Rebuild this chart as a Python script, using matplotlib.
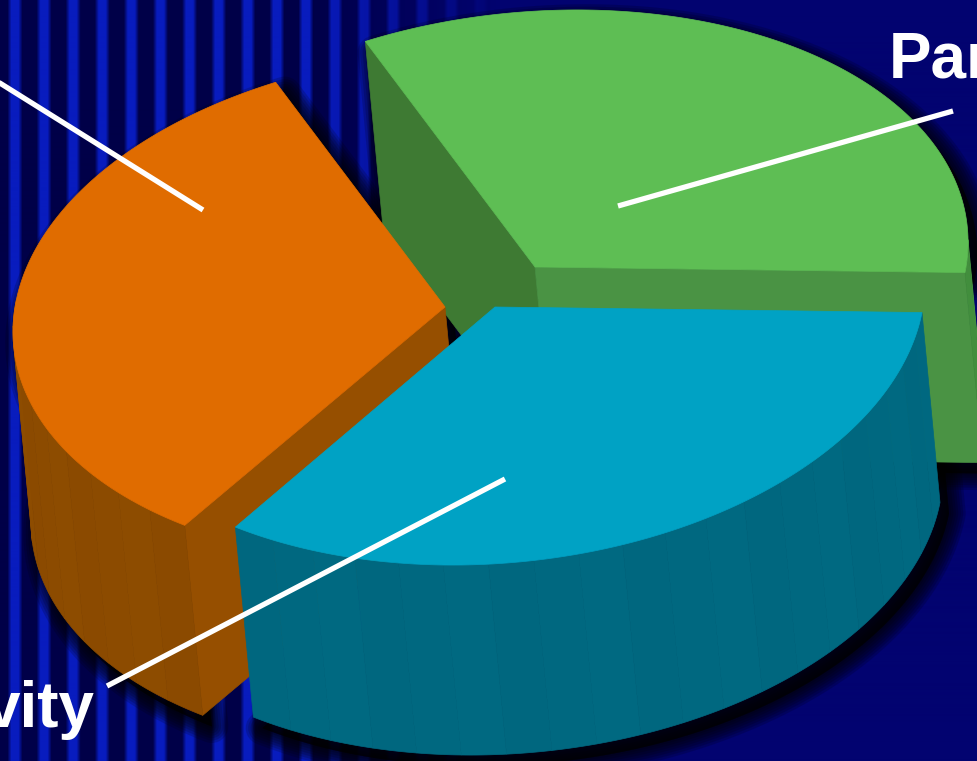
import numpy as np
import matplotlib
matplotlib.use('Agg')
import matplotlib.pyplot as plt
from matplotlib.patches import Polygon

# shares of the three slices, anticlockwise from the right hand side
slice_labels = ['Par', '', 'vity']
slice_shares = [33.3, 33.3, 33.4]
top_colors = ['#5EBE54', '#E06C00', '#00A2C4']
wall_colors = ['#438F3E', '#8C4B00', '#006880']

# exploded position of each slice tip, and its radii in pixels
tips = [(535, 267), (445, 307), (495, 307)]
radii = [(430, 257), (429, 256), (427, 258)]
depth = np.array([18, 190])
shear = 0.2
tilt = 0.013

W, H = 978, 761


def rim(i, t):
    # point on the slice rim for angle t (degrees), ellipse leans to the right
    t = np.radians(t)
    x = radii[i][0] * np.cos(t) + shear * radii[i][1] * np.sin(t)
    y = -radii[i][1] * np.sin(t) + tilt * radii[i][0] * np.cos(t)
    return np.column_stack([tips[i][0] + x, tips[i][1] + y])


def shade(color, f):
    c = np.array(matplotlib.colors.to_rgb(color)) * f
    return tuple(np.clip(c, 0, 1))


def background():
    xs = np.arange(W)
    phase = np.abs(((xs - 14.5) + 14.55) % 29.1 - 14.55)
    stripe = np.clip((7.5 - phase) / 4, 0, 1)
    fade = np.clip((500 - xs) / 190, 0, 1)
    navy = np.array([2, 3, 112]) / 255
    gap = np.array([0, 0, 72]) / 255
    bar = np.array([8, 28, 190]) / 255
    col = gap + (bar - gap) * stripe[:, None]
    col = navy + (col - navy) * fade[:, None]
    return np.repeat(col[None, :, :], 2, axis=0)


fig = plt.figure(figsize=(W / 100, H / 100), dpi=100)
ax = fig.add_axes([0, 0, 1, 1])
ax.imshow(background(), extent=[0, W, H, 0], aspect='auto', zorder=0)
ax.set_xlim(0, W)
ax.set_ylim(H, 0)
ax.axis('off')

edges = np.concatenate([[0], np.cumsum(slice_shares)]) / sum(slice_shares) * 360
tip_pts = [np.array(t, dtype=float) for t in tips]

# soft drop shadow under every slice
for i in [0, 1, 2]:
    ts = np.linspace(edges[i], edges[i + 1], 120)
    arc = rim(i, ts)
    outline = np.vstack([tip_pts[i], arc, arc[::-1] + depth, tip_pts[i] + depth])
    outline = outline + [9, 11]
    for lw in np.arange(24, 1, -3.5):
        ax.add_patch(Polygon(outline, closed=True, fc='black', ec='black',
                             lw=lw, alpha=0.16, joinstyle='round', zorder=1))


def draw_slice(i, z):
    ts = np.linspace(edges[i], edges[i + 1], 180)
    arc = rim(i, ts)
    a, b = arc[0], arc[-1]
    tip = tip_pts[i]

    # flat cut faces
    if i == 0:
        ax.add_patch(Polygon([b, tip, tip + depth, b + depth], fc='#3E7A33',
                             ec='#3E7A33', lw=0.5, zorder=z))
        ax.add_patch(Polygon([tip, a, a + depth, tip + depth], fc='#4A9344',
                             ec='#4A9344', lw=0.5, zorder=z))
    if i == 1:
        ax.add_patch(Polygon([tip, b, b + depth, tip + depth], fc='#964F00',
                             ec='#964F00', lw=0.5, zorder=z))

    # curved outer wall, split in narrow facets
    front = np.where(np.sin(np.radians(ts)) <= 0.02, True, False)
    idx = np.where(front)[0]
    if i == 0:
        idx = np.arange(0, 12)
    step = 9
    for n, s in enumerate(range(idx[0], idx[-1], step)):
        e = min(s + step, idx[-1])
        seg = arc[s:e + 1]
        f = 1 + 0.01 * ((n % 3) - 1)
        col = shade(wall_colors[i], f)
        ax.add_patch(Polygon(np.vstack([seg, seg[::-1] + depth]), fc=col, ec=col,
                             lw=0.5, zorder=z + 0.1))

    # top face
    ax.add_patch(Polygon(np.vstack([tip, arc]), fc=top_colors[i], ec=top_colors[i],
                         lw=0.5, zorder=z + 0.2))


draw_slice(0, 2)
draw_slice(1, 3)
draw_slice(2, 4)

# leader lines
leader_x = [[618, 953], [-5, 203], [505, 107]]
leader_y = [[206, 111], [80, 210], [479, 686]]
for lx, ly in zip(leader_x, leader_y):
    ax.plot(lx, ly, color='white', lw=3.8, solid_capstyle='butt', zorder=6)

ax.text(889, 77, slice_labels[0], color='white', fontsize=46, fontweight='bold',
        family='Liberation Sans', ha='left', va='baseline', zorder=7)
ax.text(95, 727, slice_labels[2], color='white', fontsize=46, fontweight='bold',
        family='Liberation Sans', ha='right', va='baseline', zorder=7)

plt.savefig('out.png', dpi=100)
